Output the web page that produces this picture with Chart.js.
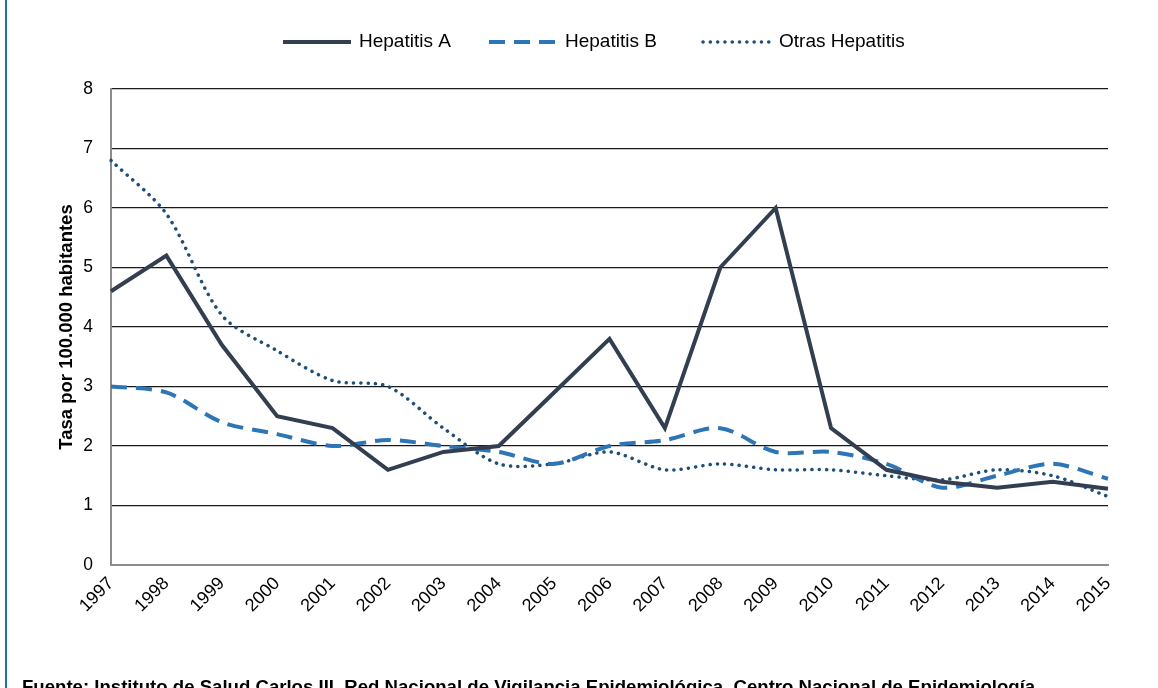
<!DOCTYPE html>
<html>
<head>
<meta charset="utf-8">
<script src="https://cdn.jsdelivr.net/npm/chart.js@4/dist/chart.umd.min.js"></script>
<style>
  html, body { margin: 0; padding: 0; background: #fff; }
  #wrap { position: relative; width: 1158px; height: 688px; overflow: hidden; background: #fff; }
  #border { position: absolute; left: 5px; top: 0; width: 2px; height: 688px; background: #1f6db0; }
  #chartBox { position: absolute; left: 0; top: 0; width: 1158px; height: 688px; }
  #footer { position: absolute; left: 22px; top: 678px; line-height: 1; font-family: 'Liberation Sans', Arial, sans-serif; font-weight: bold; font-size: 18.6px; color: #000; white-space: nowrap; }
</style>
</head>
<body>
<div id="wrap">
  <div id="chartBox"><canvas id="c" width="1158" height="688"></canvas></div>
  <div id="border"></div>
  <div id="footer">Fuente: Instituto de Salud Carlos III. Red Nacional de Vigilancia Epidemiológica. Centro Nacional de Epidemiología.</div>
</div>
<script>
const years = ['1997','1998','1999','2000','2001','2002','2003','2004','2005','2006','2007','2008','2009','2010','2011','2012','2013','2014','2015'];
const hepatitisA = [4.6, 5.2, 3.7, 2.5, 2.3, 1.6, 1.9, 2.0, 2.9, 3.8, 2.3, 5.0, 6.0, 2.3, 1.6, 1.4, 1.3, 1.4, 1.28];
const hepatitisB = [3.0, 2.9, 2.4, 2.2, 2.0, 2.1, 2.0, 1.9, 1.7, 2.0, 2.1, 2.3, 1.9, 1.9, 1.7, 1.3, 1.5, 1.7, 1.45];
const otrasHepatitis = [6.8, 5.9, 4.2, 3.6, 3.1, 3.0, 2.3, 1.7, 1.7, 1.9, 1.6, 1.7, 1.6, 1.6, 1.5, 1.43, 1.6, 1.5, 1.15];
const seriesNames = ['Hepatitis A', 'Hepatitis B', 'Otras Hepatitis'];
const yTitle = 'Tasa por 100.000 habitantes';

const FONT = "'Liberation Sans', Arial, Helvetica, sans-serif";
Chart.defaults.font.family = FONT;
Chart.defaults.color = '#000';

const customLegend = {
  id: 'customLegend',
  afterDraw(chart) {
    const ctx = chart.ctx;
    ctx.save();
    ctx.font = '19px ' + FONT;
    ctx.textBaseline = 'middle';
    ctx.textAlign = 'left';
    const y = 42;
    const starts = [283, 489, 703];
    const lineLen = 68, textGap = 8;
    chart.data.datasets.forEach((ds, i) => {
      const x = starts[i];
      ctx.beginPath();
      ctx.strokeStyle = ds.borderColor;
      ctx.lineWidth = ds.borderWidth;
      ctx.lineCap = ds.borderCapStyle || 'butt';
      ctx.setLineDash(ds.borderDash || []);
      ctx.moveTo(x, y);
      ctx.lineTo(x + lineLen, y);
      ctx.stroke();
      ctx.setLineDash([]);
      ctx.fillStyle = '#000';
      ctx.fillText(ds.label, x + lineLen + textGap, y);
    });
    ctx.restore();
  }
};

new Chart(document.getElementById('c'), {
  type: 'line',
  data: {
    labels: years,
    datasets: [
      { label: seriesNames[0], data: hepatitisA, borderColor: '#333f50', borderWidth: 4, tension: 0, pointRadius: 0, borderJoinStyle: 'miter', fill: false },
      { label: seriesNames[1], data: hepatitisB, borderColor: '#2e75b6', borderWidth: 4, borderDash: [16, 9], tension: 0.3, pointRadius: 0, fill: false },
      { label: seriesNames[2], data: otrasHepatitis, borderColor: '#1f4e79', borderWidth: 3.5, borderDash: [0.1, 7.2], borderCapStyle: 'round', tension: 0.3, pointRadius: 0, fill: false }
    ]
  },
  options: {
    responsive: false,
    animation: false,
    layout: { padding: { left: 56, right: 50, top: 89, bottom: 63 } },
    plugins: { legend: { display: false }, tooltip: { enabled: false } },
    scales: {
      x: {
        offset: false,
        grid: { display: false, drawTicks: false },
        border: { display: true, color: '#8c8c8c', width: 2 },
        ticks: { font: { size: 18 }, color: '#000', minRotation: 45, maxRotation: 45, padding: 8, autoSkip: false },
        afterFit(scale) { scale.height = 60; }
      },
      y: {
        min: 0, max: 8,
        grid: {
          drawTicks: false,
          color: (c) => (c.tick && c.tick.value === 0) ? 'rgba(0,0,0,0)' : '#1a1a1a',
          lineWidth: 1.3
        },
        border: { display: true, color: '#8c8c8c', width: 2 },
        ticks: { stepSize: 1, font: { size: 17.5 }, color: '#000', padding: 18 },
        title: { display: true, text: yTitle, font: { size: 18.5, weight: 'bold' }, color: '#000', padding: 0 },
        afterFit(scale) { scale.width = 55; }
      }
    }
  },
  plugins: [customLegend]
});
</script>
</body>
</html>
